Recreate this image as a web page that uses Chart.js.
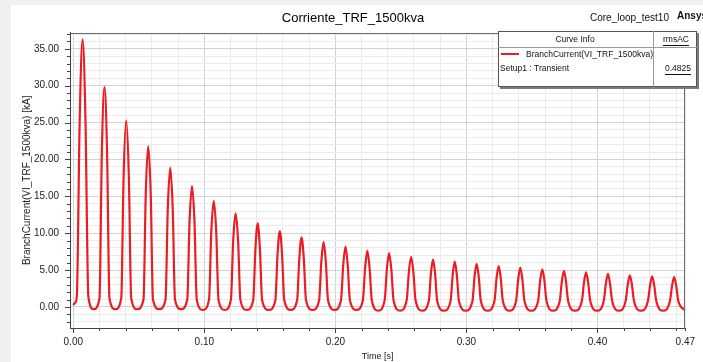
<!DOCTYPE html>
<html>
<head>
<meta charset="utf-8">
<title>Corriente_TRF_1500kva</title>
<script src="https://cdn.jsdelivr.net/npm/chart.js@4.4.1/dist/chart.umd.min.js"></script>
<style>
    html, body { margin: 0; padding: 0; background: #f0f0ee; }
    #wrap { width: 703px; height: 362px; }
</style>
</head>
<body>
<div id="wrap"><canvas id="currentChart" width="703" height="362"></canvas></div>
<script>
// Branch current, one row per cycle (valley, rise, half, peak, half, fall)
const timeS = [
    0.0000, 0.0015, 0.0027, 0.0049, 0.0071, 0.0093, 0.0115,
    0.0155, 0.0200, 0.0218, 0.0238, 0.0258, 0.0276,
    0.0321, 0.0366, 0.0384, 0.0404, 0.0424, 0.0442,
    0.0488, 0.0536, 0.0553, 0.0572, 0.0591, 0.0608,
    0.0656, 0.0704, 0.0721, 0.0740, 0.0759, 0.0776,
    0.0823, 0.0870, 0.0887, 0.0906, 0.0925, 0.0942,
    0.0989, 0.1036, 0.1053, 0.1072, 0.1091, 0.1108,
    0.1156, 0.1203, 0.1220, 0.1239, 0.1258, 0.1275,
    0.1323, 0.1373, 0.1390, 0.1407, 0.1424, 0.1441,
    0.1492, 0.1542, 0.1559, 0.1576, 0.1593, 0.1610,
    0.1659, 0.1708, 0.1725, 0.1742, 0.1759, 0.1776,
    0.1826, 0.1876, 0.1893, 0.1910, 0.1927, 0.1944,
    0.1994, 0.2043, 0.2060, 0.2077, 0.2094, 0.2111,
    0.2161, 0.2210, 0.2227, 0.2244, 0.2261, 0.2278,
    0.2327, 0.2376, 0.2393, 0.2410, 0.2427, 0.2444,
    0.2494, 0.2544, 0.2561, 0.2578, 0.2595, 0.2612,
    0.2662, 0.2713, 0.2729, 0.2745, 0.2761, 0.2777,
    0.2828, 0.2879, 0.2895, 0.2911, 0.2927, 0.2943,
    0.2995, 0.3046, 0.3062, 0.3078, 0.3094, 0.3110,
    0.3162, 0.3214, 0.3230, 0.3246, 0.3262, 0.3278,
    0.3329, 0.3379, 0.3395, 0.3411, 0.3427, 0.3443,
    0.3495, 0.3547, 0.3563, 0.3579, 0.3595, 0.3611,
    0.3662, 0.3712, 0.3728, 0.3744, 0.3760, 0.3776,
    0.3829, 0.3881, 0.3897, 0.3913, 0.3929, 0.3945,
    0.3997, 0.4048, 0.4064, 0.4080, 0.4096, 0.4112,
    0.4164, 0.4215, 0.4231, 0.4247, 0.4263, 0.4279,
    0.4332, 0.4385, 0.4401, 0.4417, 0.4433, 0.4449,
    0.4501, 0.4553, 0.4569, 0.4585, 0.4601, 0.4617,
    0.4670
];
const currentKA = [
    0.25, 0.6, 1.4, 25.4, 36.3, 25.4, 1.4,
    -0.3, 1.2, 20.9, 29.8, 20.9, 1.2,
    -0.3, 1.2, 17.7, 25.3, 17.7, 1.2,
    -0.3, 1.0, 15.3, 21.8, 15.3, 1.0,
    -0.3, 1.0, 13.2, 18.9, 13.2, 1.0,
    -0.3, 1.0, 11.5, 16.4, 11.5, 1.0,
    -0.4, 1.0, 10.1, 14.4, 10.1, 1.0,
    -0.4, 1.0, 8.9, 12.7, 8.9, 1.0,
    -0.4, 0.9, 7.9, 11.35, 7.9, 0.9,
    -0.4, 0.9, 7.2, 10.3, 7.2, 0.9,
    -0.4, 0.9, 6.6, 9.45, 6.6, 0.9,
    -0.4, 0.9, 6.2, 8.8, 6.2, 0.9,
    -0.4, 0.9, 5.7, 8.2, 5.7, 0.9,
    -0.4, 0.9, 5.3, 7.6, 5.3, 0.9,
    -0.5, 0.9, 5.1, 7.3, 5.1, 0.9,
    -0.5, 0.9, 4.8, 6.8, 4.8, 0.9,
    -0.5, 0.8, 4.5, 6.45, 4.5, 0.8,
    -0.5, 0.8, 4.3, 6.15, 4.3, 0.8,
    -0.5, 0.8, 4.1, 5.85, 4.1, 0.8,
    -0.5, 0.8, 3.9, 5.55, 3.9, 0.8,
    -0.5, 0.8, 3.75, 5.35, 3.75, 0.8,
    -0.5, 0.8, 3.6, 5.1, 3.6, 0.8,
    -0.5, 0.8, 3.45, 4.9, 3.45, 0.8,
    -0.5, 0.8, 3.3, 4.7, 3.3, 0.8,
    -0.5, 0.8, 3.15, 4.5, 3.15, 0.8,
    -0.5, 0.8, 3.0, 4.3, 3.0, 0.8,
    -0.5, 0.8, 2.9, 4.15, 2.9, 0.8,
    -0.5, 0.8, 2.85, 4.05, 2.85, 0.8,
    -0.45
];

const xTicks = [0.00, 0.02, 0.04, 0.06, 0.08, 0.10, 0.12, 0.14, 0.16, 0.18, 0.20, 0.22,
    0.24, 0.26, 0.28, 0.30, 0.32, 0.34, 0.36, 0.38, 0.40, 0.42, 0.44, 0.46, 0.467];
const yTicks = [-2, -1, 0, 1, 2, 3, 4, 5, 6, 7, 8, 9, 10, 11, 12, 13, 14, 15, 16, 17, 18, 19,
    20, 21, 22, 23, 24, 25, 26, 27, 28, 29, 30, 31, 32, 33, 34, 35, 36, 37];

const legendCurve = 'BranchCurrent(VI_TRF_1500kva)';
const legendSetup = 'Setup1 : Transient';
const legendRms = '0.4825';

const FONT = '"Liberation Sans", Arial, sans-serif';

function isMajorX(v) {
    return Math.abs(v * 10 - Math.round(v * 10)) < 1e-6;
}

const frame = {
    id: 'frame',
    beforeDraw: function(chart) {
        const ctx = chart.ctx;
        ctx.save();
        ctx.fillStyle = '#f0f0ee';
        ctx.fillRect(0, 0, chart.width, chart.height);
        ctx.fillStyle = '#ffffff';
        ctx.fillRect(11, 5, chart.width - 11, chart.height - 5);
        ctx.restore();
    },
    afterDraw: function(chart) {
        const ctx = chart.ctx;
        const a = chart.chartArea;
        const xs = chart.scales.x;
        const ys = chart.scales.y;
        ctx.save();

        // top and right border of the plot
        ctx.strokeStyle = '#6a6a6a';
        ctx.lineWidth = 1;
        ctx.beginPath();
        ctx.moveTo(a.left, Math.round(a.top) + 0.5);
        ctx.lineTo(a.right, Math.round(a.top) + 0.5);
        ctx.moveTo(Math.round(a.right) - 0.5, a.top);
        ctx.lineTo(Math.round(a.right) - 0.5, a.bottom);
        ctx.stroke();

        // tick marks outside the axes
        ctx.strokeStyle = '#444';
        ctx.beginPath();
        xTicks.forEach(function(v) {
            const px = Math.round(xs.getPixelForValue(v)) + 0.5;
            const len = isMajorX(v) ? 5 : 3;
            ctx.moveTo(px, a.bottom);
            ctx.lineTo(px, a.bottom + len);
        });
        yTicks.forEach(function(v) {
            const py = Math.round(ys.getPixelForValue(v)) + 0.5;
            const len = v % 5 === 0 ? 5 : 3;
            ctx.moveTo(a.left, py);
            ctx.lineTo(a.left - len, py);
        });
        ctx.stroke();

        // header texts
        ctx.fillStyle = '#111';
        ctx.textBaseline = 'middle';
        ctx.textAlign = 'left';
        ctx.font = '10px ' + FONT;
        ctx.fillText('Core_loop_test10', 590, 18);
        ctx.font = 'bold 10px ' + FONT;
        ctx.fillText('Ansys', 677, 16);

        // curve info box
        const bx = 498, by = 31, bw = 199, bh = 56;
        ctx.fillStyle = '#7c7c7c';
        ctx.fillRect(bx + 2, by + 2, bw, bh);
        ctx.fillStyle = '#ffffff';
        ctx.fillRect(bx, by, bw, bh);
        ctx.strokeStyle = '#555';
        ctx.strokeRect(bx + 0.5, by + 0.5, bw - 1, bh - 1);
        ctx.strokeStyle = '#9a9a9a';
        ctx.beginPath();
        ctx.moveTo(bx, by + 16.5);
        ctx.lineTo(bx + bw, by + 16.5);
        ctx.moveTo(653.5, by);
        ctx.lineTo(653.5, by + bh);
        ctx.stroke();

        ctx.fillStyle = '#111';
        ctx.font = '8.5px ' + FONT;
        ctx.textAlign = 'center';
        ctx.fillText('Curve Info', 575, 40);
        underlined(ctx, 'rmsAC', 676, 40);
        underlined(ctx, legendRms, 678, 69);
        ctx.textAlign = 'left';
        ctx.fillText(legendCurve, 526, 55);
        ctx.fillText(legendSetup, 500, 69);

        ctx.strokeStyle = '#ec1c24';
        ctx.lineWidth = 2;
        ctx.beginPath();
        ctx.moveTo(501, 54);
        ctx.lineTo(519, 54);
        ctx.stroke();
        ctx.restore();
    }
};

function underlined(ctx, text, cx, cy) {
    ctx.fillText(text, cx, cy);
    const w = ctx.measureText(text).width;
    ctx.save();
    ctx.strokeStyle = '#111';
    ctx.lineWidth = 1;
    ctx.beginPath();
    ctx.moveTo(cx - w / 2, Math.round(cy + 5) + 0.5);
    ctx.lineTo(cx + w / 2, Math.round(cy + 5) + 0.5);
    ctx.stroke();
    ctx.restore();
}

const ctx = document.getElementById('currentChart').getContext('2d');

new Chart(ctx, {
    type: 'line',
    data: {
        datasets: [{
            label: legendCurve,
            data: timeS.map(function(t, i) { return { x: t, y: currentKA[i] }; }),
            borderColor: '#ec1c24',
            borderWidth: 2.2,
            pointRadius: 0,
            fill: false,
            cubicInterpolationMode: 'monotone'
        }]
    },
    options: {
        responsive: false,
        animation: false,
        layout: { padding: { left: 11, right: 8, top: 0, bottom: 0 }, autoPadding: false },
        plugins: {
            legend: { display: false },
            tooltip: { enabled: false },
            title: {
                display: true,
                text: 'Corriente_TRF_1500kva',
                color: '#000',
                font: { family: FONT, size: 13, weight: 'normal' },
                padding: { top: 11, bottom: 6 }
            }
        },
        scales: {
            x: {
                type: 'linear',
                min: -0.0025,
                max: 0.467,
                afterBuildTicks: function(scale) {
                    scale.ticks = xTicks.map(function(v) { return { value: v }; });
                },
                afterFit: function(scale) { scale.height = 34; },
                ticks: {
                    autoSkip: false,
                    maxRotation: 0,
                    padding: 8,
                    color: '#222',
                    font: { family: FONT, size: 10 },
                    callback: function(value, index) {
                        if (index === xTicks.length - 1) return '0.47';
                        return isMajorX(value) ? value.toFixed(2) : '';
                    }
                },
                grid: {
                    drawTicks: false,
                    color: function(c) { return c.tick && isMajorX(c.tick.value) ? '#d2d2d2' : '#ebebeb'; }
                },
                border: { display: true, color: '#444' },
                title: {
                    display: true,
                    text: 'Time [s]',
                    color: '#222',
                    font: { family: FONT, size: 9 },
                    padding: { top: 0, bottom: 0 }
                }
            },
            y: {
                min: -2.85,
                max: 37.2,
                afterBuildTicks: function(scale) {
                    scale.ticks = yTicks.map(function(v) { return { value: v }; });
                },
                afterFit: function(scale) { scale.width = 59; },
                ticks: {
                    autoSkip: false,
                    padding: 11,
                    color: '#222',
                    font: { family: FONT, size: 10 },
                    callback: function(value) {
                        return value % 5 === 0 ? value.toFixed(2) : '';
                    }
                },
                grid: {
                    drawTicks: false,
                    color: function(c) { return c.tick && c.tick.value % 5 === 0 ? '#d2d2d2' : '#ebebeb'; }
                },
                border: { display: true, color: '#444' },
                title: {
                    display: true,
                    text: 'BranchCurrent(VI_TRF_1500kva) [kA]',
                    color: '#222',
                    font: { family: FONT, size: 10 },
                    padding: { top: 10, bottom: 0 }
                }
            }
        }
    },
    plugins: [frame]
});
</script>
</body>
</html>
